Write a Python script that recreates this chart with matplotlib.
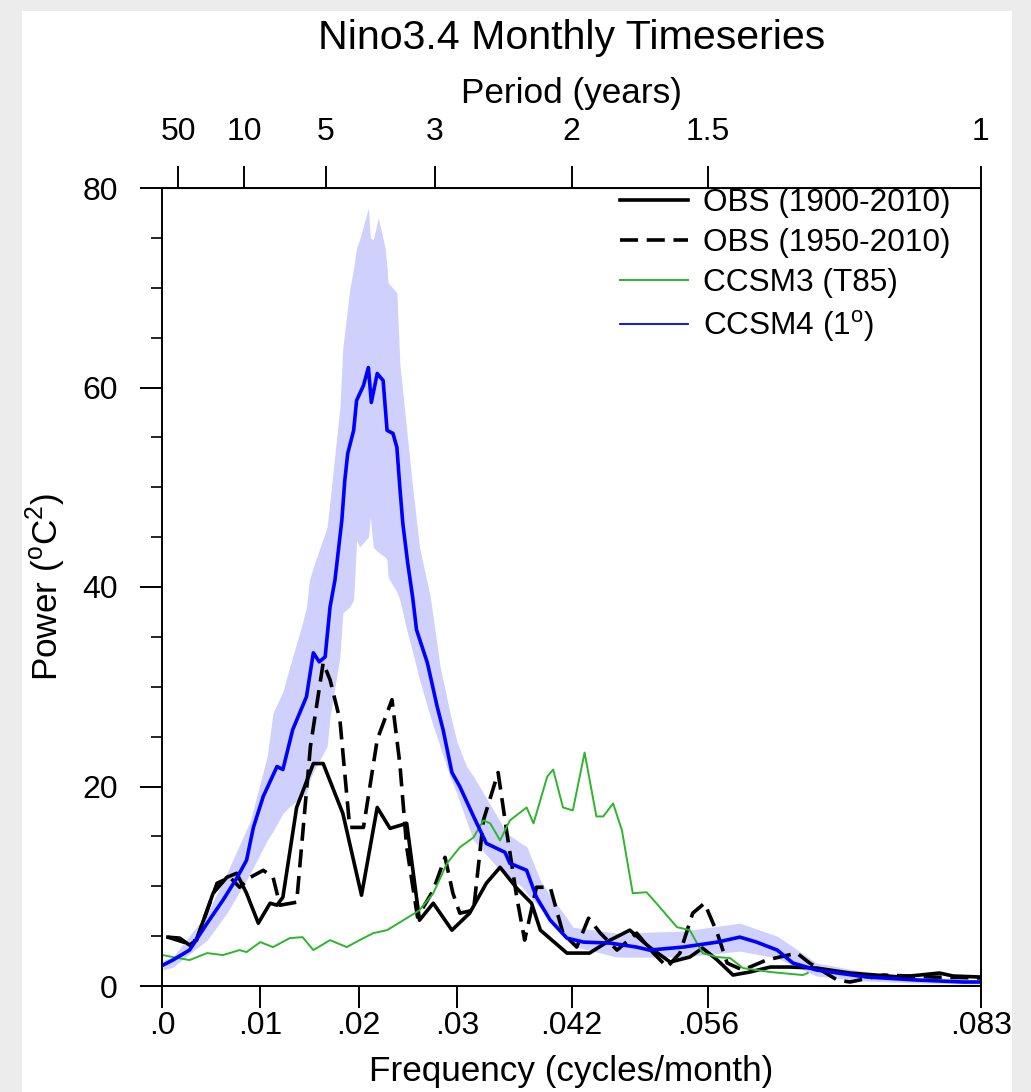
import matplotlib.pyplot as plt
from matplotlib.patches import Rectangle

plt.rcParams['font.family'] = ['Liberation Sans', 'DejaVu Sans']
plt.rcParams['mathtext.fontset'] = 'custom'
plt.rcParams['mathtext.rm'] = 'Liberation Sans'

# CCSM4 (1 deg) spectrum, frequency in cycles/month, power in degC^2
ccsm4_freq = [0.0001, 0.0011, 0.0028, 0.0046, 0.0062, 0.0076, 0.0086, 0.0093, 0.0103, 0.0117,
              0.0123, 0.0133, 0.0147, 0.0154, 0.0160, 0.0166, 0.0171, 0.0176, 0.0183, 0.0186,
              0.0189, 0.0195, 0.0198, 0.0205, 0.0210, 0.0213, 0.0219, 0.0225, 0.0229, 0.0235,
              0.0239, 0.0242, 0.0245, 0.0250, 0.0255, 0.0259, 0.0270, 0.0280, 0.0286, 0.0295,
              0.0303, 0.0317, 0.0330, 0.0349, 0.0354, 0.0371, 0.0381, 0.0395, 0.0412, 0.0429,
              0.0456, 0.0483, 0.0496, 0.0530, 0.0565, 0.0588, 0.0605, 0.0626, 0.0642, 0.0666,
              0.0717, 0.0768, 0.0815, 0.0833]
ccsm4_power = [2.1, 2.6, 3.6, 6.3, 8.6, 10.8, 12.6, 15.9, 19.0, 22.0,
               21.7, 25.7, 29.0, 33.4, 32.5, 33.0, 38.0, 40.7, 46.7, 50.7,
               53.4, 55.7, 58.7, 60.2, 62.0, 58.5, 61.4, 60.7, 55.7, 55.4,
               54.0, 50.0, 46.4, 42.4, 39.0, 35.7, 32.4, 28.0, 25.7, 21.4,
               20.0, 17.0, 14.3, 13.4, 12.3, 11.6, 8.9, 6.6, 4.8, 4.4,
               4.3, 3.9, 3.6, 3.9, 4.4, 4.9, 4.4, 3.6, 2.3, 1.6,
               0.9, 0.6, 0.4, 0.4]

# CCSM4 spread (shaded)
band_freq = [0.0001, 0.0011, 0.0046, 0.0066, 0.0090, 0.0107, 0.0113, 0.0123, 0.0130, 0.0143,
             0.0147, 0.0150, 0.0154, 0.0168, 0.0171, 0.0181, 0.0184, 0.0191, 0.0195, 0.0198,
             0.0201, 0.0210, 0.0212, 0.0215, 0.0220, 0.0227, 0.0229, 0.0230, 0.0239, 0.0242,
             0.0249, 0.0255, 0.0262, 0.0273, 0.0283, 0.0293, 0.0300, 0.0310, 0.0317, 0.0344,
             0.0351, 0.0367, 0.0371, 0.0385, 0.0392, 0.0412, 0.0418, 0.0463, 0.0530, 0.0588,
             0.0626, 0.0666, 0.0717, 0.0768, 0.0833]
band_lo = [1.6, 1.9, 4.6, 7.3, 11.3, 14.6, 15.5, 17.3, 18.0, 19.0,
           19.3, 20.5, 21.5, 24.0, 27.0, 33.0, 37.4, 38.0, 38.7, 44.7,
           44.0, 45.0, 47.0, 44.0, 43.5, 43.0, 42.7, 41.0, 39.5, 38.7,
           35.7, 33.5, 30.7, 27.0, 24.0, 21.0, 19.3, 16.5, 14.6, 11.6,
           11.0, 9.9, 9.3, 7.8, 7.3, 4.6, 4.0, 2.9, 2.9, 3.5,
           2.8, 1.0, 0.5, 0.3, 0.2]
band_hi = [2.6, 2.9, 7.3, 11.3, 16.6, 23.0, 27.4, 29.5, 32.0, 36.4,
           38.0, 40.7, 42.0, 46.0, 48.7, 58.0, 64.0, 69.8, 72.0, 74.0,
           74.8, 78.0, 75.0, 74.8, 77.0, 74.0, 72.0, 70.5, 69.5, 62.4,
           55.7, 50.0, 44.0, 39.0, 32.0, 27.4, 24.5, 22.0, 21.0, 16.5,
           15.3, 14.2, 14.0, 10.6, 9.5, 6.8, 5.9, 5.3, 5.5, 6.3,
           5.0, 2.3, 1.4, 0.9, 0.6]

# OBS 1900-2010
obs1_freq = [0.0006, 0.0018, 0.0028, 0.0035, 0.0052, 0.0066, 0.0076, 0.0086, 0.0098, 0.0110,
             0.0117, 0.0123, 0.0137, 0.0154, 0.0164, 0.0184, 0.0203, 0.0219, 0.0232, 0.0249,
             0.0262, 0.0276, 0.0295, 0.0313, 0.0330, 0.0344, 0.0361, 0.0376, 0.0385, 0.0412,
             0.0435, 0.0456, 0.0476, 0.0496, 0.0517, 0.0537, 0.0550, 0.0565, 0.0581, 0.0598,
             0.0619, 0.0639, 0.0666, 0.0700, 0.0751, 0.0791, 0.0805, 0.0833]
obs1_power = [4.9, 4.8, 4.1, 4.6, 9.3, 10.9, 11.3, 9.3, 6.3, 8.3,
              8.1, 8.9, 17.9, 22.3, 22.3, 17.3, 9.1, 17.9, 15.8, 16.3,
              6.6, 8.3, 5.6, 7.3, 10.3, 11.9, 9.8, 8.3, 5.6, 3.3,
              3.3, 4.6, 5.6, 3.9, 2.4, 2.9, 3.8, 2.6, 1.1, 1.4,
              1.9, 1.9, 1.8, 1.3, 0.9, 1.3, 1.0, 0.9]

# OBS 1950-2010
obs2_freq = [0.0006, 0.0025, 0.0035, 0.0056, 0.0069, 0.0079, 0.0090, 0.0103, 0.0113, 0.0120,
             0.0137, 0.0151, 0.0164, 0.0171, 0.0181, 0.0191, 0.0205, 0.0219, 0.0234, 0.0242,
             0.0249, 0.0260, 0.0276, 0.0288, 0.0296, 0.0303, 0.0317, 0.0327, 0.0342, 0.0351,
             0.0361, 0.0369, 0.0381, 0.0395, 0.0408, 0.0422, 0.0434, 0.0446, 0.0463, 0.0483,
             0.0500, 0.0514, 0.0527, 0.0540, 0.0552, 0.0565, 0.0575, 0.0591, 0.0615, 0.0646,
             0.0659, 0.0687, 0.0700, 0.0734, 0.0785, 0.0833]
obs2_power = [4.9, 4.3, 4.6, 10.3, 10.9, 9.9, 10.9, 11.6, 10.9, 8.1,
              8.4, 24.0, 32.4, 30.7, 26.7, 15.9, 15.9, 24.7, 28.7, 22.3,
              13.9, 6.9, 9.6, 12.9, 9.3, 7.3, 7.6, 16.6, 21.4, 15.3,
              8.9, 4.6, 9.9, 9.9, 5.3, 3.9, 6.8, 5.3, 3.6, 5.3,
              3.3, 1.9, 3.3, 7.3, 8.3, 5.3, 2.3, 1.6, 2.6, 3.3,
              2.3, 0.6, 0.4, 1.1, 0.9, 0.8]

# CCSM3 (T85)
ccsm3_freq = [0.0001, 0.0011, 0.0028, 0.0046, 0.0062, 0.0079, 0.0086, 0.0100, 0.0113, 0.0130,
              0.0143, 0.0154, 0.0171, 0.0188, 0.0201, 0.0215, 0.0229, 0.0249, 0.0262, 0.0276,
              0.0290, 0.0303, 0.0317, 0.0327, 0.0334, 0.0344, 0.0354, 0.0371, 0.0378, 0.0392,
              0.0398, 0.0408, 0.0418, 0.0430, 0.0442, 0.0449, 0.0459, 0.0468, 0.0479, 0.0493,
              0.0503, 0.0524, 0.0537, 0.0550, 0.0565, 0.0578, 0.0591, 0.0619, 0.0652, 0.0657]
ccsm3_power = [3.1, 2.9, 2.6, 3.3, 3.1, 3.6, 3.4, 4.4, 3.9, 4.8,
               4.9, 3.6, 4.6, 3.9, 4.6, 5.3, 5.6, 6.8, 7.6, 9.3,
               12.3, 13.9, 14.9, 16.6, 16.3, 14.6, 16.6, 17.9, 16.3, 21.0,
               21.7, 17.9, 17.6, 23.4, 17.0, 17.0, 18.3, 15.6, 9.3, 9.4,
               8.3, 5.9, 5.6, 3.3, 2.9, 2.8, 1.8, 1.4, 1.1, 1.3]

freq_ticks = [0.0, 0.01, 0.02, 0.03, 1 / 24, 1 / 18, 1 / 12]
freq_labels = ['.0', '.01', '.02', '.03', '.042', '.056', '.083']
period_years = [50, 10, 5, 3, 2, 1.5, 1]
period_labels = ['50', '10', '5', '3', '2', '1.5', '1']

fig = plt.figure(figsize=(10.31, 10.92), dpi=100, facecolor='#ececec')
fig.patches.append(Rectangle((22 / 1031, 0), 990 / 1031, 1 - 11 / 1092,
                             transform=fig.transFigure, facecolor='white',
                             edgecolor='none', zorder=-5))

ax = fig.add_axes([162 / 1031, 1 - 986 / 1092, 819 / 1031, 798 / 1092])
ax.set_facecolor('none')

ax.fill_between(band_freq, band_lo, band_hi, color='#cfd0fb', lw=0)
ax.plot(obs1_freq, obs1_power, color='black', lw=2.6, label='OBS (1900-2010)')
ax.plot(obs2_freq, obs2_power, color='black', lw=2.6, dashes=(5, 2.4),
        label='OBS (1950-2010)')
ax.plot(ccsm3_freq, ccsm3_power, color='#2db52d', lw=1.4, label='CCSM3 (T85)')
ax.plot(ccsm4_freq, ccsm4_power, color='#0000ff', lw=2.6, label=r'CCSM4 (1$^{\rm o}$)')

ax.set_xlim(0, 1 / 12)
ax.set_ylim(0, 80)
ax.set_xticks(freq_ticks, freq_labels)
ax.set_yticks([0, 20, 40, 60, 80])
ax.set_yticks(range(0, 81, 5), minor=True)
ax.tick_params(axis='both', which='major', labelsize=23, length=15.8, width=1.4)
ax.tick_params(axis='y', which='major', pad=16)
ax.tick_params(axis='x', which='major', pad=2)
ax.tick_params(axis='y', which='minor', length=7.9, width=1.2)
for s in ax.spines.values():
    s.set_linewidth(1.4)

ax.set_xlabel('Frequency (cycles/month)', fontsize=25.3, labelpad=10)
ax.set_ylabel(r'Power ($^{\rm o}$C$^2$)', fontsize=25.3, labelpad=10)

# period axis on top
top = ax.secondary_xaxis('top')
top.set_xticks([1 / (12 * p) for p in period_years], period_labels)
top.tick_params(labelsize=23, length=15.8, width=1.4, pad=14)
top.set_xlabel('Period (years)', fontsize=25.3, labelpad=10)

ax.set_title('Nino3.4 Monthly Timeseries', fontsize=29.6, pad=100)

leg = ax.legend(loc='upper left', bbox_to_anchor=(620 / 1031, 1 - 188 / 1092),
                bbox_transform=fig.transFigure, frameon=False, fontsize=22.7,
                borderpad=0, borderaxespad=0, handlelength=2.15, handletextpad=0.48,
                labelspacing=0.32)
leg.get_lines()[3].set_linewidth(1.3)

fig.savefig('out.png', dpi=100, facecolor=fig.get_facecolor())
